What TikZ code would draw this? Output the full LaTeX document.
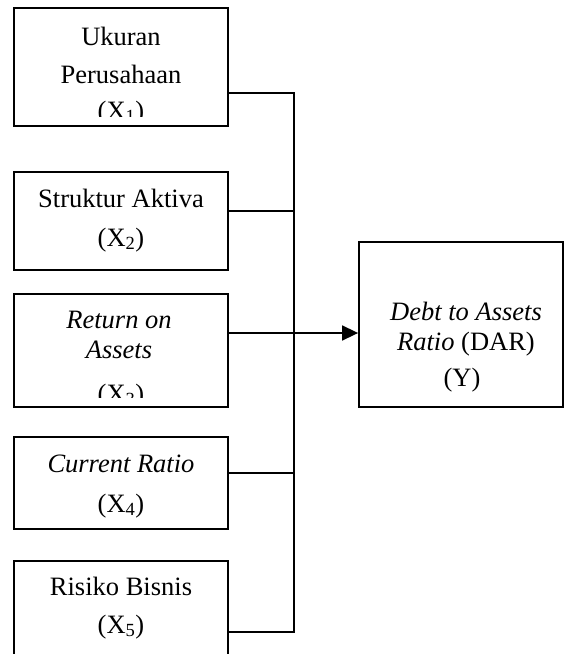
\documentclass[tikz,border=0pt]{standalone}
\usepackage{fontspec}
\setmainfont{Liberation Serif}
\usetikzlibrary{arrows.meta}
\begin{document}
\begin{tikzpicture}[x=1pt,y=1pt,
  box/.style={draw,line width=1.8pt,inner sep=0pt,rectangle},
  conn/.style={line width=1.6pt},
  txt/.style={anchor=base,inner sep=0pt,font=\fontsize{26.5}{32}\selectfont}]
\useasboundingbox (0,0) rectangle (568,-654);
\clip (0,0) rectangle (568,-654);
% boxes
\node[box,minimum width=214pt,minimum height=118pt] (b1) at (121,-67) {};
\node[box,minimum width=214pt,minimum height=98pt] (b2) at (121,-221) {};
\node[box,minimum width=214pt,minimum height=113pt] (b3) at (121,-350.5) {};
\node[box,minimum width=214pt,minimum height=92pt] (b4) at (121,-483) {};
\node[box,minimum width=214pt,minimum height=139pt] (b5) at (121,-630.5) {};
\node[box,minimum width=204pt,minimum height=165pt] (y) at (461,-324.5) {};
% texts
\begin{scope}
\clip (14,-8) rectangle (228,-116);
\node[txt] (t1a) at (121,-45) {Ukuran};
\node[txt] (t1b) at (121,-83) {Perusahaan};
\node[txt] (t1c) at (121,-119) {(X\textsubscript{1})};
\end{scope}
\node[txt] (t2a) at (121,-207) {Struktur Aktiva};
\node[txt] (t2b) at (121,-246) {(X\textsubscript{2})};
\begin{scope}
\clip (14,-294) rectangle (228,-397);
\node[txt] (t3a) at (119,-328) {\textit{Return on}};
\node[txt] (t3b) at (119,-358) {\textit{Assets}};
\node[txt] (t3c) at (121,-402) {(X\textsubscript{3})};
\end{scope}
\node[txt] (t4a) at (121,-472) {\textit{Current Ratio}};
\node[txt] (t4b) at (121,-512) {(X\textsubscript{4})};
\node[txt] (t5a) at (121,-595) {Risiko Bisnis};
\node[txt] (t5b) at (121,-633) {(X\textsubscript{5})};
\node[txt] (tya) at (466,-320) {\textit{Debt to Assets}};
\node[txt] (tyb) at (466,-350) {\textit{Ratio} (DAR)};
\node[txt] (tyc) at (462,-386) {(Y)};
% connectors
\coordinate (j1) at (294,-93);
\coordinate (j2) at (294,-211);
\coordinate (j3) at (294,-333);
\coordinate (j4) at (294,-473);
\coordinate (j5) at (294,-632);
\draw[conn] (b1.east |- j1) -- (j1) -- (j5) -- (b5.east |- j5);
\draw[conn] (b2.east |- j2) -- (j2);
\draw[conn] (b4.east |- j4) -- (j4);
\draw[conn,-{Triangle[length=16pt,width=15pt]}] (b3.east |- j3) -- (y.west |- j3);
\end{tikzpicture}
\end{document}
